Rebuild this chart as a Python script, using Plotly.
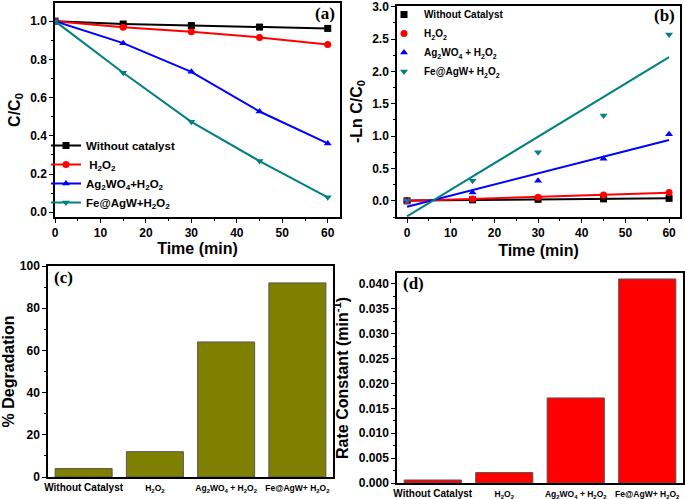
import numpy as np
import plotly.graph_objects as go

# ---------------- data ----------------
time_min = [0, 15, 30, 45, 60]
series_names = ["Without catalyst", " H<sub>2</sub>O<sub>2</sub>",
                "Ag<sub>2</sub>WO<sub>4</sub>+H<sub>2</sub>O<sub>2</sub>",
                "Fe@AgW+H<sub>2</sub>O<sub>2</sub>"]
series_names_b = ["Without Catalyst", "H<sub>2</sub>O<sub>2</sub>",
                  "Ag<sub>2</sub>WO<sub>4</sub> + H<sub>2</sub>O<sub>2</sub>",
                  "Fe@AgW+ H<sub>2</sub>O<sub>2</sub>"]
c_without = [1.0, 0.985, 0.977, 0.969, 0.962]
c_h2o2 = [1.0, 0.968, 0.945, 0.915, 0.878]
c_ag2wo4 = [1.0, 0.885, 0.735, 0.527, 0.360]
c_feagw = [1.0, 0.730, 0.473, 0.268, 0.078]

ln_without = [0.0, 0.015, 0.023, 0.030, 0.038]
ln_h2o2 = [0.0, 0.030, 0.055, 0.090, 0.130]
ln_ag2wo4 = [0.0, 0.130, 0.310, 0.650, 1.030]
ln_feagw = [0.0, 0.310, 0.750, 1.320, 2.570]

bar_categories = ["Without Catalyst", "H2O2", "Ag2WO4 + H2O2", "Fe@AgW+ H2O2"]
bar_ticktext = ["Without Catalyst",
                "<span style='font-size:8.5px'>H<sub>2</sub>O<sub>2</sub></span>",
                "<span style='font-size:8.5px'>Ag<sub>2</sub>WO<sub>4</sub> + H<sub>2</sub>O<sub>2</sub></span>",
                "<span style='font-size:8.5px'>Fe@AgW+ H<sub>2</sub>O<sub>2</sub></span>"]
degradation = [4.0, 12.0, 64.0, 92.0]
rate_constant = [0.0006, 0.0021, 0.0171, 0.0410]

colors = ["#000000", "#ff0000", "#0000ff", "#008080"]
symbols = ["square", "circle", "triangle-up", "triangle-down"]

FONT = "Liberation Sans"
W, H = 685, 499

def px_x(a, b):
    return [a / W, b / W]

def px_y(top, bottom):
    return [1 - bottom / H, 1 - top / H]

fig = go.Figure()

# ---------- panel (a) ----------
for name, ys, col, sym in zip(series_names, [c_without, c_h2o2, c_ag2wo4, c_feagw], colors, symbols):
    fig.add_trace(go.Scatter(x=time_min, y=ys, mode="lines+markers", name=name,
                             line=dict(color=col, width=2),
                             marker=dict(color=col, symbol=sym, size=7),
                             xaxis="x", yaxis="y", legend="legend"))

# ---------- panel (b) ----------
for name, ys, col, sym in zip(series_names_b, [ln_without, ln_h2o2, ln_ag2wo4, ln_feagw], colors, symbols):
    fig.add_trace(go.Scatter(x=time_min, y=ys, mode="markers", name=name,
                             marker=dict(color=col, symbol=sym, size=7),
                             xaxis="x2", yaxis="y2", legend="legend2"))
    slope, icpt = np.polyfit(time_min, ys, 1)
    xf = [time_min[0], time_min[-1]]
    fig.add_trace(go.Scatter(x=xf, y=[icpt + slope * v for v in xf], mode="lines",
                             line=dict(color=col, width=2), showlegend=False,
                             hoverinfo="skip", xaxis="x2", yaxis="y2"))

# ---------- panel (c) ----------
fig.add_trace(go.Bar(x=bar_categories, y=degradation, marker=dict(color="#808000",
                     line=dict(color="#555555", width=1)), width=0.8,
                     showlegend=False, xaxis="x3", yaxis="y3"))

# ---------- panel (d) ----------
fig.add_trace(go.Bar(x=bar_categories, y=rate_constant, marker=dict(color="#ff0000",
                     line=dict(color="#555555", width=1)), width=0.8,
                     showlegend=False, xaxis="x4", yaxis="y4"))

axis_common = dict(showline=True, linecolor="black", linewidth=1.5, mirror=True,
                   ticks="outside", ticklen=4, tickwidth=1.2, tickcolor="black",
                   showgrid=False, zeroline=False, ticklabeloverflow="allow",
                   tickfont=dict(family=FONT, size=12, color="black", weight="bold"))

title_font = dict(family=FONT, size=16, color="black", weight="bold")
bar_xaxis = dict(ticks="", ticklen=0,
                 tickmode="array", tickvals=bar_categories, ticktext=bar_ticktext,
                 tickfont=dict(family=FONT, size=10, color="black", weight="bold"))

fig.update_layout(
    width=W, height=H, margin=dict(l=0, r=0, t=0, b=0, autoexpand=False),
    paper_bgcolor="white", plot_bgcolor="white",
    font=dict(family=FONT, color="black", weight="bold"),
    bargap=0.2,
    xaxis=dict(axis_common, domain=px_x(55, 340), anchor="y", range=[0, 62.7], dtick=10,
               minor=dict(ticks="outside", ticklen=2, dtick=5, tickcolor="black"),
               title=dict(text="Time (min)", font=title_font, standoff=4)),
    yaxis=dict(axis_common, domain=px_y(3, 217), anchor="x", range=[-0.025, 1.095], dtick=0.2,
               tickformat=".1f",
               minor=dict(ticks="outside", ticklen=2, dtick=0.1, tickcolor="black"),
               title=dict(text="C/C<sub>0</sub>", font=title_font, standoff=6)),
    xaxis2=dict(axis_common, domain=px_x(397, 680), anchor="y2", range=[-2.3, 62.5], dtick=10,
                minor=dict(ticks="outside", ticklen=2, dtick=5, tickcolor="black"),
                title=dict(text="Time (min)", font=title_font, standoff=6)),
    yaxis2=dict(axis_common, domain=px_y(6, 217), anchor="x2", range=[-0.25, 3.01], dtick=0.5,
                tickformat=".1f",
                minor=dict(ticks="outside", ticklen=2, dtick=0.25, tickcolor="black"),
                title=dict(text="-Ln C/C<sub>0</sub>", font=title_font, standoff=6)),
    xaxis3=dict(axis_common, domain=px_x(48, 333), anchor="y3", **bar_xaxis),
    yaxis3=dict(axis_common, domain=px_y(266, 477), anchor="x3", range=[0, 100], dtick=20,
                minor=dict(ticks="outside", ticklen=2, dtick=10, tickcolor="black"),
                title=dict(text="% Degradation", font=title_font, standoff=6)),
    xaxis4=dict(axis_common, domain=px_x(397, 683), anchor="y4", **bar_xaxis),
    yaxis4=dict(axis_common, domain=px_y(273, 483), anchor="x4", range=[0, 0.0422], dtick=0.005,
                tickformat=".3f",
                minor=dict(ticks="outside", ticklen=2, dtick=0.0025, tickcolor="black"),
                title=dict(text="Rate Constant (min<sup>-1</sup>)", font=title_font, standoff=6)),
    legend=dict(x=46 / W, y=1 - 131 / H, xanchor="left", yanchor="top",
                bgcolor="rgba(0,0,0,0)", tracegroupgap=0, itemwidth=30,
                font=dict(family=FONT, size=11.5, color="black", weight="bold")),
    legend2=dict(x=384 / W, y=1.0, xanchor="left", yanchor="top",
                 bgcolor="rgba(0,0,0,0)", tracegroupgap=0, itemwidth=30,
                 font=dict(family=FONT, size=10, color="black", weight="bold")),
)

panel_font = dict(family="Liberation Serif", size=17, color="black", weight="bold")
for txt, x, y in [("(a)", 337, 13), ("(b)", 677, 15), ("(c)", 52, 277), ("(d)", 401, 283)]:
    fig.add_annotation(text=txt, x=x / W, y=1 - y / H, xref="paper", yref="paper",
                       xanchor="right" if txt in ("(a)", "(b)") else "left",
                       yanchor="middle", showarrow=False, font=panel_font)

fig.write_html("out.html", config={"displayModeBar": False},
               post_script="document.body.style.margin='0';document.body.style.overflow='hidden';")
